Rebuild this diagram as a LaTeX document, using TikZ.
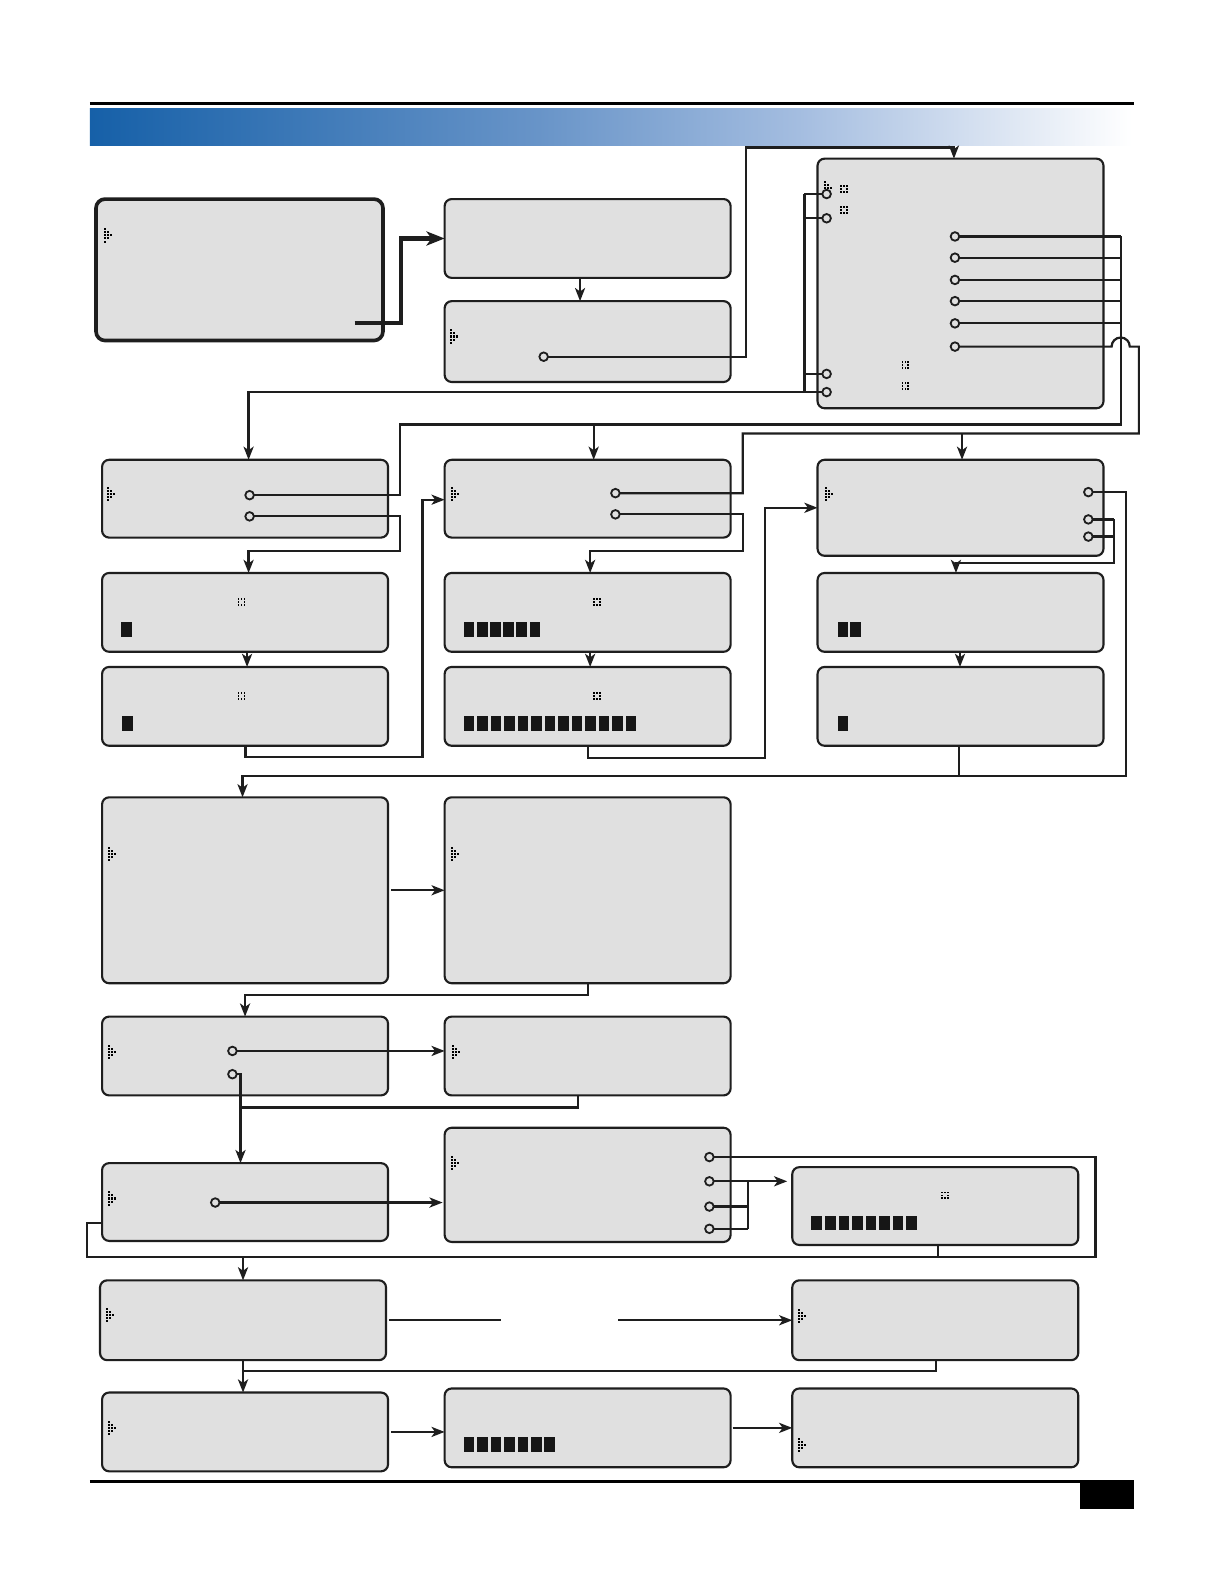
\documentclass[tikz,border=0pt]{standalone}
\usetikzlibrary{arrows.meta,calc}
\definecolor{boxgray}{RGB}{224,224,224}
\definecolor{edgec}{RGB}{30,30,30}
\definecolor{blk}{RGB}{22,22,22}
\definecolor{hba}{RGB}{22,96,168}
\definecolor{hbb}{RGB}{104,148,200}
\definecolor{hbc}{RGB}{164,189,224}
\definecolor{hbd}{RGB}{221,230,243}
\pgfdeclarehorizontalshading{hdr}{100bp}{color(0bp)=(hba); color(25bp)=(hba); color(46.5bp)=(hbb); color(59bp)=(hbc); color(69bp)=(hbd); color(75bp)=(white); color(100bp)=(white)}
\tikzset{
  lcdbox/.style={draw=edgec, fill=boxgray, line width=2.1pt, rounded corners=7pt, inner sep=0pt, outer sep=0pt},
  thickbox/.style={line width=3.6pt, rounded corners=9pt},
  portc/.style={circle, draw=edgec, fill=boxgray, line width=1.8pt, minimum size=8.5pt, inner sep=0pt, outer sep=0pt},
  conn/.style={draw=edgec, line width=2.2pt},
  arr/.style={conn, -{Stealth[length=13pt,width=10pt,inset=3.5pt]}},
  bigarr/.style={draw=edgec, line width=4pt, -{Stealth[length=18pt,width=14pt,inset=5pt]}},
  curs/.pic={\foreach \c/\r in {-1/-2,-1/-1,-1/0,-1/1,-1/2,0/-1,0/0,0/1,1/0}{\fill[black] ({\c*3.0-1},{\r*3.0-1}) rectangle ++(2,2);}},
  dsq/.pic={\foreach \c/\r in {-1/-1,0/-1,1/-1,-1/0,1/0,-1/1,0/1,1/1}{\fill[black] ({\c*2.9-0.9},{\r*2.9-0.9}) rectangle ++(1.8,1.8);}}
}
\newcommand\lcdscr[6][]{\node[lcdbox,#1,minimum width={(#5-#3)*1pt},minimum height={(#6-#4)*1pt}] (#2) at ({(#3+#5)/2},{(#4+#6)/2}) {};}
\newcommand\lcdport[3]{\node[portc] (#1) at (#2,#3) {};}
\newcommand\blkrow[4]{\foreach \i in {1,...,#3}{\fill[blk] ({#1+(\i-1)*#4},#2) rectangle ++(10.5,14.5);}}
\begin{document}
\begin{tikzpicture}[x=1pt,y=-1pt]
\fill[white] (0,0) rectangle (1211.3,1567.5);
\useasboundingbox (0,0) rectangle (1211.3,1567.5);
% header and footer
\draw[line width=2.2pt] (89,102.5) -- (1122,102.5);
\fill[shading=hdr] (89,107) rectangle (1120,143.5);
\draw[line width=2.2pt] (89,1466) -- (1122,1466);
\fill[black] (1069,1468) rectangle (1122,1493);
% screens
\lcdscr[thickbox]{b1}{95}{197}{379}{337}
\lcdscr{b2}{440}{197}{723}{275}
\lcdscr{b3}{440}{298}{723}{378}
\lcdscr{b4}{809}{157}{1092}{404}
\lcdscr{b5}{101}{455}{384}{532}
\lcdscr{b6}{440}{455}{723}{532}
\lcdscr{b7}{809}{455}{1092}{550}
\lcdscr{b8}{101}{567}{384}{645}
\lcdscr{b9}{440}{567}{723}{645}
\lcdscr{b10}{809}{567}{1092}{645}
\lcdscr{b11}{101}{660}{384}{738}
\lcdscr{b12}{440}{660}{723}{738}
\lcdscr{b13}{809}{660}{1092}{738}
\lcdscr{b14}{101}{789}{384}{973}
\lcdscr{b15}{440}{789}{723}{973}
\lcdscr{b16}{101}{1006}{384}{1084}
\lcdscr{b17}{440}{1006}{723}{1084}
\lcdscr{b18}{101}{1151}{384}{1228}
\lcdscr{b19}{440}{1116}{723}{1229}
\lcdscr{b20}{784}{1155}{1067}{1232}
\lcdscr{b21}{99}{1267}{382}{1346}
\lcdscr{b22}{784}{1267}{1067}{1346}
\lcdscr{b23}{101}{1378}{384}{1456}
\lcdscr{b24}{440}{1374}{723}{1452}
\lcdscr{b25}{784}{1374}{1067}{1452}
% cursors
\foreach \x/\y in {107/233,449/333,819/186,110/489,450/489,820/489,111/845,450/845,111/1041,451/1041,111/1186,450/1151,109/1301,794/1302,111/1413,794/1430}
  \pic at (\x,\y) {curs};
% dotted squares
\foreach \x/\y in {835/187,835/208,896/361,896/382,239/596,591/596,239/689,591/689,935/1183}
  \pic at (\x,\y) {dsq};
% block rows
\blkrow{120}{616}{1}{13}
\blkrow{459}{616}{6}{13}
\blkrow{829}{616}{2}{12.5}
\blkrow{121}{709}{1}{13}
\blkrow{459}{709}{13}{13.35}
\blkrow{829}{709}{1}{13}
\blkrow{803}{1203}{8}{13.4}
\blkrow{459}{1422}{7}{13.3}
% ports
\lcdport{p3}{538}{353}
\lcdport{pL1}{818}{192}
\lcdport{pL2}{818}{216}
\lcdport{pL3}{818}{370}
\lcdport{pL4}{818}{388}
\lcdport{pR1}{945}{234}
\lcdport{pR2}{945}{255}
\lcdport{pR3}{945}{277}
\lcdport{pR4}{945}{298}
\lcdport{pR5}{945}{320}
\lcdport{pR6}{945}{343}
\lcdport{p5a}{247}{490}
\lcdport{p5b}{247}{511}
\lcdport{p6a}{609}{488}
\lcdport{p6b}{609}{509}
\lcdport{p7a}{1077}{487}
\lcdport{p7b}{1077}{514}
\lcdport{p7c}{1077}{531}
\lcdport{p16a}{230}{1040}
\lcdport{p16b}{230}{1063}
\lcdport{p18}{213}{1190}
\lcdport{p19a}{702}{1145}
\lcdport{p19b}{702}{1169}
\lcdport{p19c}{702}{1194}
\lcdport{p19d}{702}{1216}
% helper coordinates
\coordinate (b1o) at (351,320);
\coordinate (k1) at (397,320);
\coordinate (k3) at (738,146);
\coordinate (busL) at (796,0);
\coordinate (busR) at (1109,0);
\coordinate (r1) at (1109,420);
\coordinate (l1) at (396,420);
\coordinate (k6a) at (735,429);
\coordinate (k5) at (396,545);
\coordinate (k11) at (418,749);
\coordinate (k6) at (735,545);
\coordinate (k12) at (757,750);
\coordinate (k7) at (1114,768);
\coordinate (k7b) at (1102,557);
\coordinate (k15) at (242.5,985);
\coordinate (k17) at (238,1096);
\coordinate (k18a) at (101,1210);
\coordinate (k18b) at (86,1244);
\coordinate (k18c) at (1084,1244);
\coordinate (bus19) at (740,0);
\coordinate (g1) at (496,1306.5);
\coordinate (g2) at (612,1306.5);
\coordinate (k22) at (240.5,1357);
% connectors
\draw[bigarr] (b1o) -- (k1) |- (b2.west);
\draw[arr] ([xshift=-7.5pt]b2.south) -- ([xshift=-7.5pt]b3.north);
\draw[arr] (p3) -| (k3) -| ([xshift=-6.5pt]b4.north);
% left bus of b4
\draw[conn] (pL1 -| busL) -- (pL4 -| busL);
\draw[conn] (pL1 -| busL) -- (pL1);
\draw[conn] (pL2 -| busL) -- (pL2);
\draw[conn] (pL3 -| busL) -- (pL3);
\draw[arr] (pL4) -| ([xshift=3.5pt]b5.north);
% right bus of b4
\foreach \p in {pR1,pR2,pR3,pR4,pR5} \draw[conn] (\p) -- (\p -| busR);
\draw[conn] (pR1 -| busR) -- (r1) -- (l1) |- (p5a);
\draw[arr] ([xshift=6pt]b6.north |- l1) -- ([xshift=6pt]b6.north);
\draw[conn] (pR6) -- (1100,343) arc[start angle=180,end angle=360,radius=9] -- (1127,343) |- (k6a) |- (p6a);
\draw[arr] ([xshift=1.5pt]b7.north |- k6a) -- ([xshift=1.5pt]b7.north);
% row 2 -> row 3/4
\draw[arr] (p5b) -| (k5) -| ([xshift=3.5pt]b8.north);
\draw[arr] ([xshift=2pt]b8.south) -- ([xshift=2pt]b11.north);
\draw[arr] ([xshift=0.5pt]b11.south) |- (k11) |- ([yshift=-1pt]b6.west);
\draw[arr] (p6b) -| (k6) -| ([xshift=2.5pt]b9.north);
\draw[arr] ([xshift=2.5pt]b9.south) -- ([xshift=2.5pt]b12.north);
\draw[arr] ([xshift=0.5pt]b12.south) |- (k12) |- (b7.west);
\draw[arr] (p7a) -| (k7) -| ([xshift=-2.5pt]b14.north);
\draw[conn] (p7b) -- (p7b -| k7b);
\draw[conn] (p7c) -- (p7c -| k7b);
\draw[arr] (p7b -| k7b) -- (k7b) -| ([xshift=-4.5pt]b10.north);
\draw[arr] ([xshift=-0.5pt]b10.south) -- ([xshift=-0.5pt]b13.north);
\draw[conn] ([xshift=-1.5pt]b13.south) -- ([xshift=-1.5pt]b13.south |- k7);
% lower part
\draw[arr] ([xshift=3pt]b14.east) -- (b15.west);
\draw[arr] (b15.south) |- (k15) -- (b16.north);
\draw[arr] (p16a) -- (p16a -| b17.west);
\draw[arr] (p16b) -| ([xshift=-4.5pt]b18.north);
\draw[conn] ([xshift=-9.5pt]b17.south) |- (k17);
\draw[arr] (p18) -- ([xshift=-2pt]p18 -| b19.west);
\draw[conn] (k18a) -| (k18b) -- (k18c) |- (p19a);
\draw[arr] (b21.north |- k18b) -- (b21.north);
\draw[conn] ([xshift=2.5pt]b20.south) -- ([xshift=2.5pt]b20.south |- k18b);
\draw[conn] (p19b) -- (p19b -| bus19);
\draw[conn] (p19c) -- (p19c -| bus19);
\draw[conn] (p19d) -- (p19d -| bus19);
\draw[conn] (p19b -| bus19) -- (p19d -| bus19);
\draw[arr] (p19b -| bus19) -- ([xshift=-5pt]b20.west |- p19b);
\draw[conn] ([xshift=3pt]b21.east) -- (g1);
\draw[arr] (g2) -- (b22.west);
\draw[arr] (b21.south) -- (b21.south |- b23.north);
\draw[conn] ([xshift=0.5pt]b22.south) |- (k22);
\draw[arr] ([xshift=3pt]b23.east) -- (b23.east -| b24.west);
\draw[arr] ([xshift=2pt]b24.east) -- (b24.east -| b25.west);
\end{tikzpicture}
\end{document}
